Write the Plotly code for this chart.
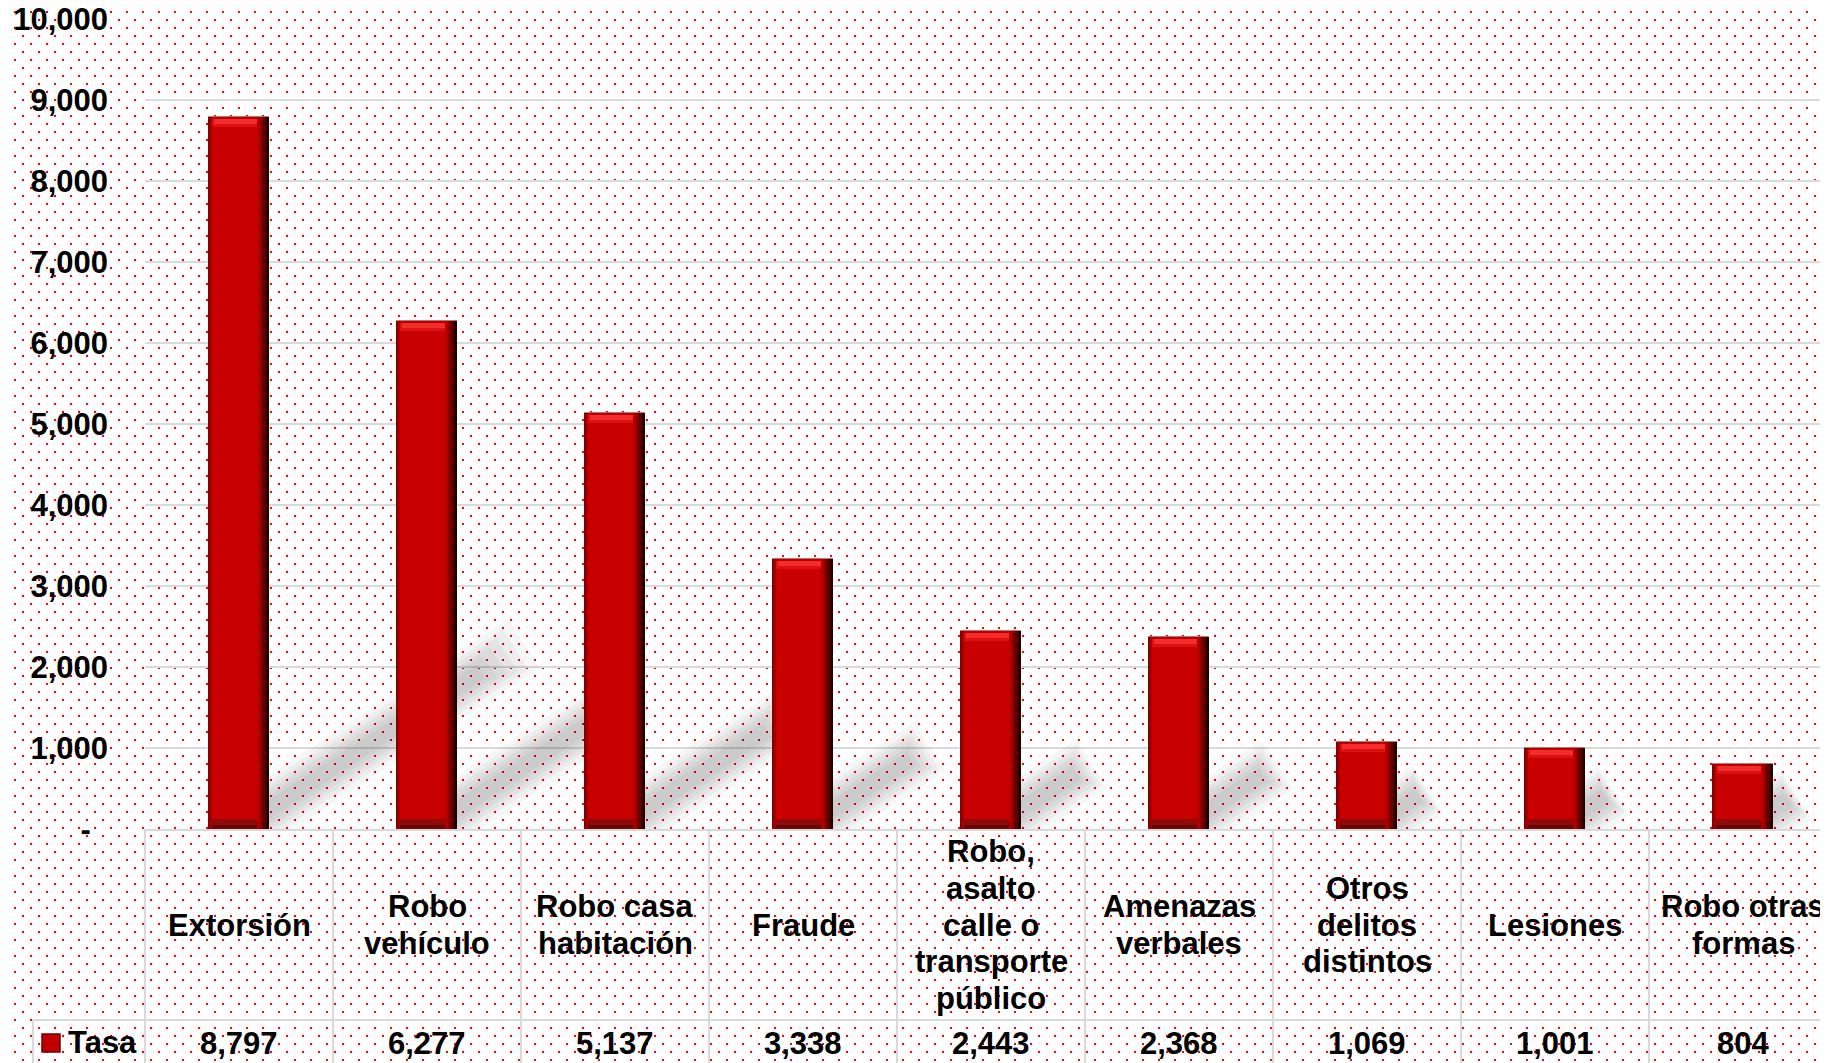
import base64
import plotly.graph_objects as go

categories = [
    "Extorsión",
    "Robo<br>vehículo",
    "Robo casa<br>habitación",
    "Fraude",
    "Robo,<br>asalto<br>calle o<br>transporte<br>público",
    "Amenazas<br>verbales",
    "Otros<br>delitos<br>distintos",
    "Lesiones",
    "Robo otras<br>formas",
]
tasa = [8797, 6277, 5137, 3338, 2443, 2368, 1069, 1001, 804]
series_name = "Tasa"
y_tickvals = [0, 1000, 2000, 3000, 4000, 5000, 6000, 7000, 8000, 9000, 10000]
y_ticktext = ["-", "1,000", "2,000", "3,000", "4,000", "5,000",
              "6,000", "7,000", "8,000", "9,000", "10,000"]

# the page body adds an 8px margin, so layout is designed in screen px
# and shifted back by OFF
OFF = 8
W_FIG, H_FIG = 1828, 1063
M_L = 145 - OFF
M_T = 19 - OFF
plot_h = 810
M_B = H_FIG - M_T - plot_h
M_R = 0
plot_w = W_FIG - M_L - M_R
col_px = 188
x0 = -0.5
x1 = x0 + plot_w / col_px
y_max = 10000
y_top = y_max * 1.0002
px_y = plot_h / y_top          # px per value unit
font_family = "Liberation Sans, Arial, sans-serif"
grid_color = "#D9D9D9"


def paper_y(sy):
    # screen px -> paper y
    return (M_T + plot_h - (sy - OFF)) / plot_h


def paper_x(sx):
    # screen px -> paper x
    return (sx - OFF - M_L) / plot_w


def v(px):
    # px height -> value units
    return px / px_y


idx = list(range(len(categories)))
BW = 0.32

fig = go.Figure()


def add_bar(y, base, width, offset, color):
    fig.add_trace(go.Bar(
        x=idx, y=y, base=base, width=width, offset=offset,
        marker=dict(color=color, line=dict(width=0)),
        hoverinfo="skip", showlegend=False
    ))


# main bar body
fig.add_trace(go.Bar(
    x=idx, y=tasa, width=BW, offset=-BW / 2, name=series_name,
    marker=dict(color="#C80000", line=dict(color="rgba(170,120,120,0.8)", width=1)),
    hovertemplate="%{y:,}<extra></extra>", showlegend=False
))

n = len(tasa)
# top bevel
add_bar([v(10)] * n, [t - v(10) for t in tasa], BW - 0.004, -BW / 2 + 0.002, "#DC1212")
add_bar([v(5)] * n, [t - v(7) for t in tasa], BW - 0.05, -BW / 2 + 0.025, "#F42C2C")
add_bar([v(2)] * n, [t - v(2) for t in tasa], BW - 0.004, -BW / 2 + 0.002, "#B80000")
# bottom bevel
add_bar([v(10)] * n, [0] * n, BW - 0.004, -BW / 2 + 0.002, "#900A0A")
add_bar([v(4)] * n, [0] * n, BW - 0.004, -BW / 2 + 0.002, "#6A0606")
# left edge shading
for w, c in [(0.016, "#A80000"), (0.007, "#840000")]:
    add_bar(tasa, [0] * n, w, -BW / 2, c)
# right edge shading (fake gradient)
for w, c in [(0.066, "#B20000"), (0.05, "#900000"), (0.036, "#680000"),
             (0.024, "#420000"), (0.012, "#1A0000")]:
    add_bar(tasa, [0] * n, w, BW / 2 - w, c)

# soft diagonal shadows cast by the bars
shapes = []
slope = 0.65
for i, t in enumerate(tasa):
    L = 30 + 0.029 * t
    for frac, lw in [(1.0, 58), (0.97, 48), (0.94, 40), (0.91, 32), (0.88, 24), (0.85, 16)]:
        dx = L * frac
        shapes.append(dict(
            type="line", xref="x", yref="y", layer="between",
            x0=i, y0=0, x1=i + dx / col_px, y1=v(slope * dx),
            line=dict(color="rgba(0,0,0,0.036)", width=lw)
        ))

# data table lines
tbl_mid = 1020
bottom = 1075
shapes.append(dict(type="line", xref="paper", yref="paper",
                   x0=paper_x(33), x1=1, y0=paper_y(tbl_mid), y1=paper_y(tbl_mid),
                   line=dict(color=grid_color, width=2)))
shapes.append(dict(type="line", xref="paper", yref="paper",
                   x0=paper_x(33), x1=paper_x(33), y0=paper_y(tbl_mid), y1=paper_y(bottom),
                   line=dict(color=grid_color, width=2)))
for k in range(len(categories)):
    xp = (k - 0.5 - x0) / (x1 - x0)
    shapes.append(dict(type="line", xref="paper", yref="paper",
                       x0=xp, x1=xp, y0=0, y1=paper_y(bottom),
                       line=dict(color=grid_color, width=2)))
# legend key for Tasa
shapes.append(dict(type="rect", xref="paper", yref="paper",
                   x0=paper_x(42), x1=paper_x(60), y0=paper_y(1052), y1=paper_y(1034),
                   fillcolor="#C00000", line=dict(color="#700000", width=1.5)))

# annotations: category labels, values, series name
annotations = []
label_font = dict(family=font_family, size=31, color="black", weight="bold")
line_h = 36.6
cat_center = 925
for i, cat in enumerate(categories):
    lines = cat.split("<br>")
    nl = len(lines)
    for k, ln in enumerate(lines):
        sy = cat_center + (k - (nl - 1) / 2) * line_h
        annotations.append(dict(
            x=i, y=paper_y(sy), xref="x", yref="paper", text=ln,
            showarrow=False, xanchor="center", yanchor="middle", font=label_font
        ))
for i, t in enumerate(tasa):
    annotations.append(dict(
        x=i, y=paper_y(1043), xref="x", yref="paper", text=f"{t:,}",
        showarrow=False, xanchor="center", yanchor="middle", font=label_font
    ))
annotations.append(dict(
    x=paper_x(66), y=paper_y(1042), xref="paper", yref="paper", text=series_name,
    showarrow=False, xanchor="left", yanchor="middle", font=label_font
))

# dotted background (screen-aligned pattern)
svg = (
    f'<svg xmlns="http://www.w3.org/2000/svg" width="{W_FIG}" height="{H_FIG}">'
    '<defs><pattern id="p" width="16" height="16" patternUnits="userSpaceOnUse">'
    '<rect x="14" y="11" width="2" height="2" fill="#ff0000"/>'
    '<rect x="6" y="3" width="2" height="2" fill="#ff0000"/>'
    '</pattern></defs>'
    f'<rect width="{W_FIG}" height="{H_FIG}" fill="#ffffff"/>'
    f'<rect width="{W_FIG}" height="{H_FIG}" fill="url(#p)"/></svg>'
)
bg_src = "data:image/svg+xml;base64," + base64.b64encode(svg.encode()).decode()

fig.update_layout(
    width=W_FIG, height=H_FIG,
    barmode="overlay",
    bargap=0,
    margin=dict(l=M_L, r=M_R, t=M_T, b=M_B, autoexpand=False),
    paper_bgcolor="white",
    plot_bgcolor="rgba(0,0,0,0)",
    font=dict(family=font_family, color="black"),
    xaxis=dict(
        range=[x0, x1], showticklabels=False, showgrid=False, zeroline=False,
        showline=True, linecolor=grid_color, linewidth=2, fixedrange=True,
        automargin=False
    ),
    yaxis=dict(
        range=[0, y_top], tickvals=y_tickvals,
        ticktext=[t + "\u00a0\u00a0" if t == "-" else t for t in y_ticktext],
        tickfont=dict(family=font_family, size=31, color="black", weight="bold"),
        ticks="", ticklabelstandoff=36, ticklabeloverflow="allow",
        showgrid=True, gridcolor=grid_color, gridwidth=2,
        zeroline=False, showline=False, fixedrange=True, automargin=False
    ),
    shapes=shapes,
    annotations=annotations,
    images=[dict(
        source=bg_src, xref="paper", yref="paper",
        x=-M_L / plot_w, y=1 + M_T / plot_h, sizex=W_FIG / plot_w, sizey=H_FIG / plot_h,
        xanchor="left", yanchor="top", sizing="stretch", layer="below"
    )],
    showlegend=False
)

fig.write_html("out.html")
